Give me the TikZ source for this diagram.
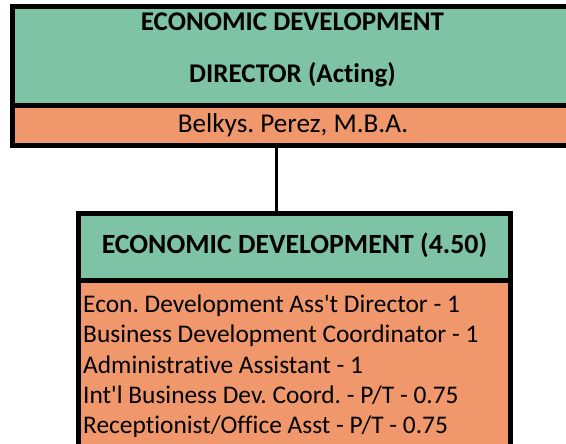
\documentclass[tikz,border=0pt]{standalone}
\usepackage{fontspec}
\setmainfont{Carlito}[Ligatures={TeX,NoCommon}]
\definecolor{hdrgreen}{RGB}{127,195,166}
\definecolor{bodyorange}{RGB}{240,152,108}
\begin{document}
\frenchspacing
\begin{tikzpicture}[x=1pt,y=-1pt,
  cell/.style={draw=black,line width=5pt,rectangle,inner sep=0pt,outer sep=0pt,anchor=north west},
  green/.style={cell,fill=hdrgreen},
  orange/.style={cell,fill=bodyorange},
  hdr/.style={font=\fontsize{27}{30}\selectfont\bfseries,inner sep=0pt,anchor=base},
  body/.style={font=\fontsize{25.4}{30}\selectfont,inner sep=0pt,anchor=base west},
  link/.style={draw=black,line width=3pt}]
\useasboundingbox (0,0) rectangle (566,444);
\clip (0,0) rectangle (566,444);
% top box
\node[green, minimum width=563pt, minimum height=99pt] (dirhead) at (12.5,6.5) {};
\node[orange, minimum width=563pt, minimum height=40pt] (dirname) at (12.5,105.5) {};
\node[hdr] (t1) at (292.5,31) {ECONOMIC DEVELOPMENT};
\node[hdr] (t2) at (292.5,83) {DIRECTOR (Acting)};
\node[font=\fontsize{27.2}{30}\selectfont,inner sep=0pt,anchor=base] (t3) at (293,132) {Belkys. Perez, M.B.A.};
% bottom box
\node[green, minimum width=432pt, minimum height=67pt] (dephead) at (78.5,213.5) {};
\node[orange, minimum width=432pt, minimum height=175pt] (depbody) at (78.5,280.5) {};
\node[hdr,font=\fontsize{27.8}{30}\selectfont\bfseries] (d1) at (294.5,254) {ECONOMIC DEVELOPMENT (4.50)};
\node[body] (b1) at (83,312) {Econ. Development Ass\textquotesingle t Director - 1};
\node[body] (b2) at (83,342) {Business Development Coordinator - 1};
\node[body] (b3) at (83,373) {Administrative Assistant - 1};
\node[body] (b4) at (83,403) {Int\textquotesingle l Business Dev. Coord. - P/T - 0.75};
\node[body] (b5) at (83,433) {Receptionist/Office Asst - P/T - 0.75};
% connector
\coordinate (cx) at (276.5,0);
\draw[link] (cx |- dirname.south) -- (cx |- dephead.north);
\end{tikzpicture}
\end{document}
